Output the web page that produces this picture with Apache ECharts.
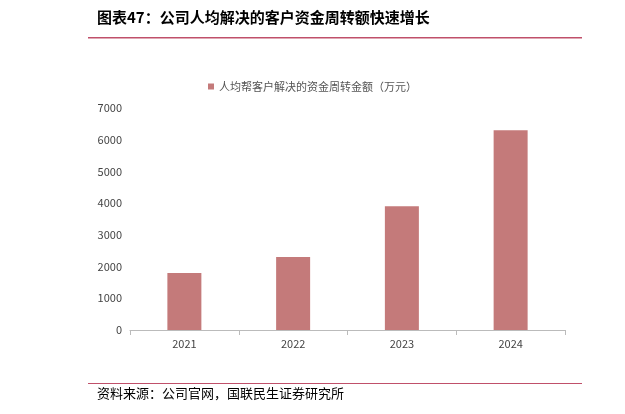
<!DOCTYPE html>
<html><head><meta charset="utf-8">
<script src="https://cdn.jsdelivr.net/npm/echarts@6/dist/echarts.min.js"></script>
<style>html,body{margin:0;padding:0;background:#fff}#c{width:625px;height:414px}</style>
</head><body><div id="c"></div>
<script>
const categories = ['2021','2022','2023','2024'];
const values = [1800, 2300, 3900, 6300];
const yTicks = {min:0, max:7000, interval:1000};
const seriesName = '人均帮客户解决的资金周转金额（万元）';
const chart = echarts.init(document.getElementById('c'));
chart.setOption({
  animation:false,
  textStyle:{fontFamily:'Noto Sans CJK SC'},
  graphic:[
    {type:'text',left:97,top:10,style:{text:'图表47：公司人均解决的客户资金周转额快速增长',font:'bold 15px "Noto Sans CJK SC"',fill:'#000'}},
    {type:'rect',shape:{x:88,y:37,width:494,height:1.5},style:{fill:'#C0506A'}},
    {type:'rect',shape:{x:88,y:383,width:494,height:1},style:{fill:'#C0506A'}},
    {type:'text',left:97,top:387,style:{text:'资料来源：公司官网，国联民生证券研究所',font:'13px "Noto Sans CJK SC"',fill:'#000'}}
  ],
  legend:{top:76,left:'center',itemWidth:6,itemHeight:6,icon:'rect',textStyle:{fontSize:11,color:'#555'}},
  grid:{left:130,right:60,top:108,bottom:84},
  xAxis:{type:'category',data:categories,axisLine:{lineStyle:{color:'#bbb'}},axisTick:{show:true,lineStyle:{color:'#bbb'}},axisLabel:{color:'#444',fontSize:11}},
  yAxis:{type:'value',min:yTicks.min,max:yTicks.max,interval:yTicks.interval,splitLine:{show:false},axisLine:{show:false},axisLabel:{color:'#444',fontSize:11,formatter:v=>String(v)}},
  series:[{name:seriesName,type:'bar',data:values,barWidth:34,itemStyle:{color:'#C47A7A'}}]
});
</script></body></html>
